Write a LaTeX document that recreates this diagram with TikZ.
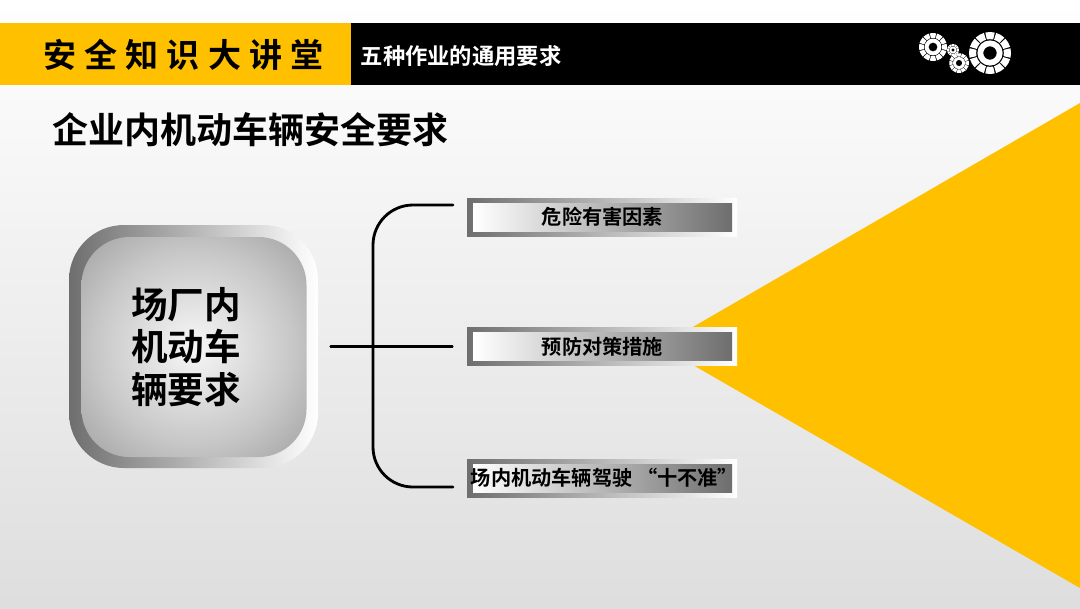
\documentclass[tikz,border=0pt]{standalone}
\usepackage{fontspec}
\setmainfont{Noto Sans CJK SC}[BoldFont={Noto Sans CJK SC Bold}]
\usepackage{tikz}
\usetikzlibrary{positioning}

\definecolor{safetyyellow}{HTML}{FFC000}
\definecolor{steelgray}{HTML}{6E6E6E}

\pgfdeclareradialshading{blockglow}{\pgfpoint{0bp}{0bp}}{
	color(0bp)=(black!3); color(22bp)=(black!22); color(50bp)=(black!52)}

\tikzset{
	barframe/.style={minimum width=2.70cm, minimum height=0.38cm, inner sep=0pt,
		left color=steelgray, middle color=steelgray!55!white, right color=white},
	barface/.style={minimum width=2.59cm, minimum height=0.28cm, inner sep=0pt,
		left color=white, middle color=steelgray!32!white, right color=steelgray},
	barlabel/.style={inner sep=0pt, font=\bfseries\fontsize{5.75}{6.8}\selectfont},
	link/.style={line width=0.8pt, black}
}

\begin{document}
\begin{tikzpicture}[line cap=round, line join=round]
	% Page
	\useasboundingbox (0,0) rectangle (10.8,6.08);
	\shade[top color=white, bottom color=black!13] (0,0) rectangle (10.8,6.08);
	
	% Header band
	\fill[safetyyellow] (0,5.23) rectangle (3.51,5.85);
	\fill[black] (3.51,5.23) rectangle (10.8,5.85);
	\node[anchor=center, inner sep=0pt, font=\bfseries\fontsize{9.4}{11}\selectfont] (brand) at (1.835,5.53)
		{\addfontfeature{LetterSpace=25}安全知识大讲堂};
	\node[anchor=west, inner sep=0pt, text=white, font=\bfseries\fontsize{6.35}{8}\selectfont] (topic) at (3.60,5.52) {五种作业的通用要求};
	
	% Gears in the band
	\foreach \gx/\gy/\gr in {9.90/5.55/0.21, 9.33/5.61/0.14, 9.59/5.45/0.10, 9.53/5.58/0.06} {
		\begin{scope}[shift={(\gx,\gy)}, scale=\gr]
			\fill[white, even odd rule] (0,0) circle (0.60) circle (0.32);
			\foreach \a in {0,30,...,330} {
				\fill[white] (\a-13:0.66) -- (\a-13:1)
					arc[start angle=\a-13, end angle=\a+13, radius=1]
					-- (\a+13:0.66)
					arc[start angle=\a+13, end angle=\a-13, radius=0.66] -- cycle;
			}
		\end{scope}
	}
	
	% Title
	\node[anchor=west, inner sep=0pt, font=\bfseries\fontsize{10.25}{12}\selectfont] (title) at (0.52,4.78) {企业内机动车辆安全要求};
	
	% Yellow wedge
	\fill[safetyyellow] (6.60,2.62) -- (10.8,5.05) -- (10.8,0.20) -- cycle;
	
	% Left block
	\node[rounded corners=0.55cm, minimum width=2.49cm, minimum height=2.43cm, inner sep=0pt,
		left color=steelgray, middle color=steelgray!60!white, right color=white] (blockframe) at (1.935,2.615) {};
	\node[rounded corners=0.48cm, minimum width=2.25cm, minimum height=2.20cm, inner sep=0pt,
		shading=blockglow] (block) at (1.94,2.61) {};
	\node[align=center, inner sep=0pt, font=\bfseries\fontsize{10.4}{12.2}\selectfont] (blocklabel) at (1.86,2.61) {场厂内\\机动车\\辆要求};
	
	% Right column
	\node[barframe] (hazardframe) at (6.02,3.905) {};
	\node[barface] (hazard) at (6.025,3.91) {};
	\node[barlabel] (hazardlabel) at (6.025,3.91) {危险有害因素};
	
	\node[barframe] (measureframe) at (6.02,2.615) {};
	\node[barface] (measure) at (6.025,2.615) {};
	\node[barlabel] (measurelabel) at (6.025,2.615) {预防对策措施};
	
	\node[barframe] (ruleframe) at (6.02,1.295) {};
	\node[barface] (rule) at (6.025,1.30) {};
	\node[barlabel] (rulelabel) at (6.045,1.30) {场内机动车辆驾驶 “十不准”};
	
	% Bracket
	\coordinate (trunk) at (3.73,2.62);
	\coordinate (topend) at (4.53,4.03);
	\coordinate (bottomend) at (4.53,1.21);
	\draw[link, rounded corners=0.40cm] (topend) -| (trunk) |- (bottomend);
	\draw[link, shorten <=0.12cm, shorten >=0.14cm] (blockframe.east) -- (measureframe.west);
\end{tikzpicture}
\end{document}
